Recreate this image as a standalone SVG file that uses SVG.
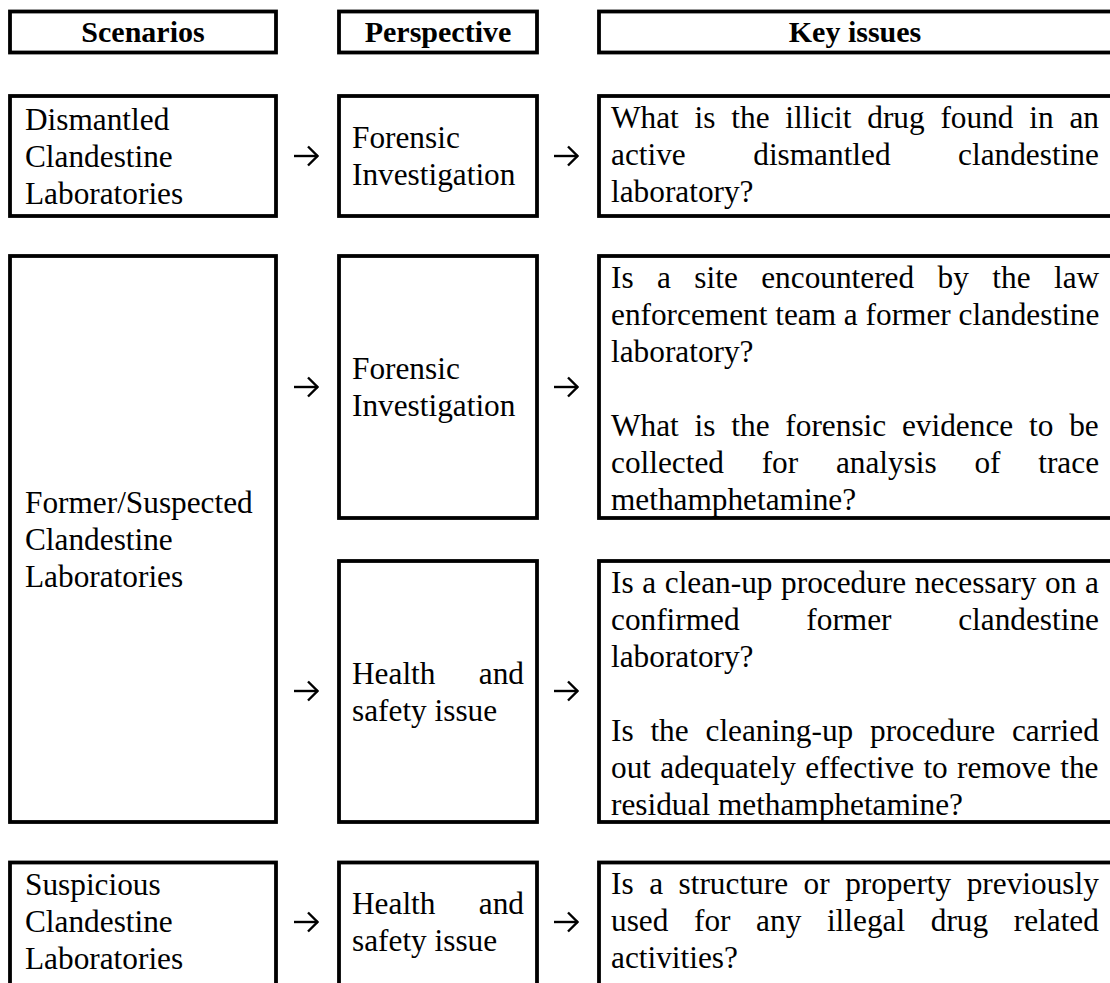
<svg xmlns="http://www.w3.org/2000/svg" width="1110" height="983" viewBox="0 0 1110 983">
<style>
.box{fill:#fff;stroke:#000;stroke-width:3.8}
.t{font-family:"Liberation Serif","Times New Roman",serif;font-size:31.3px;fill:#000}
.h{font-family:"Liberation Serif","Times New Roman",serif;font-size:30px;font-weight:bold;fill:#000;text-anchor:middle}
.arr{fill:none;stroke:#000;stroke-width:2.4}
</style>
<defs>
<marker id="ah" markerUnits="userSpaceOnUse" viewBox="0 0 12 22" markerWidth="12" markerHeight="22" refX="11" refY="11" orient="auto">
<path d="M1,1.5 L10.5,11 L1,20.5" fill="none" stroke="#000" stroke-width="2.4"/>
</marker>
</defs>
<rect width="1110" height="983" fill="#fff"/>

<g id="hdr-scenarios"><rect class="box" x="10" y="11.5" width="266" height="41"/><text class="h" x="143" y="42">Scenarios</text></g>
<g id="hdr-perspective"><rect class="box" x="339" y="11.5" width="198" height="41"/><text class="h" x="438" y="42">Perspective</text></g>
<g id="hdr-keyissues"><rect class="box" x="599" y="11.5" width="520" height="41"/><text class="h" x="855" y="42">Key issues</text></g>

<g id="s-dismantled"><rect class="box" x="10" y="96" width="266" height="120"/>
<text class="t" x="25" y="130">Dismantled</text><text class="t" x="25" y="167">Clandestine</text><text class="t" x="25" y="204">Laboratories</text></g>
<g id="p-forensic1"><rect class="box" x="339" y="96" width="198" height="120"/>
<text class="t" x="352" y="148">Forensic</text><text class="t" x="352" y="185">Investigation</text></g>
<g id="k-row1"><rect class="box" x="599" y="96" width="520" height="120"/>
<text class="t" x="611" y="128" word-spacing="8">What is the illicit drug found in an</text>
<text class="t" x="611" y="165" word-spacing="59.7">active dismantled clandestine</text>
<text class="t" x="611" y="202">laboratory?</text></g>

<g id="s-former"><rect class="box" x="10" y="256" width="266" height="566"/>
<text class="t" x="25" y="513">Former/Suspected</text><text class="t" x="25" y="550">Clandestine</text><text class="t" x="25" y="587">Laboratories</text></g>
<g id="p-forensic2"><rect class="box" x="339" y="256" width="198" height="262"/>
<text class="t" x="352" y="379">Forensic</text><text class="t" x="352" y="416">Investigation</text></g>
<g id="k-row2a"><rect class="box" x="599" y="256" width="520" height="262"/>
<text class="t" x="611" y="288" word-spacing="15.6">Is a site encountered by the law</text>
<text class="t" x="611" y="325">enforcement team a former clandestine</text>
<text class="t" x="611" y="362">laboratory?</text>
<text class="t" x="611" y="436" word-spacing="8">What is the forensic evidence to be</text>
<text class="t" x="611" y="473" word-spacing="29.9">collected for analysis of trace</text>
<text class="t" x="611" y="510">methamphetamine?</text></g>
<g id="p-health1"><rect class="box" x="339" y="561" width="198" height="261"/>
<text class="t" x="352" y="684">Health</text><text class="t" x="524" y="684" text-anchor="end">and</text><text class="t" x="352" y="721">safety issue</text></g>
<g id="k-row2b"><rect class="box" x="599" y="561" width="520" height="261"/>
<text class="t" x="611" y="593" word-spacing="0.8">Is a clean-up procedure necessary on a</text>
<text class="t" x="611" y="630" word-spacing="58.9">confirmed former clandestine</text>
<text class="t" x="611" y="667">laboratory?</text>
<text class="t" x="611" y="741" word-spacing="9">Is the cleaning-up procedure carried</text>
<text class="t" x="611" y="778" word-spacing="1.5">out adequately effective to remove the</text>
<text class="t" x="611" y="815">residual methamphetamine?</text></g>

<g id="s-suspicious"><rect class="box" x="10" y="862.5" width="266" height="130"/>
<text class="t" x="25" y="895">Suspicious</text><text class="t" x="25" y="932">Clandestine</text><text class="t" x="25" y="969">Laboratories</text></g>
<g id="p-health2"><rect class="box" x="339" y="862.5" width="198" height="130"/>
<text class="t" x="352" y="914">Health</text><text class="t" x="524" y="914" text-anchor="end">and</text><text class="t" x="352" y="951">safety issue</text></g>
<g id="k-row3"><rect class="box" x="599" y="862.5" width="520" height="130"/>
<text class="t" x="611" y="894" word-spacing="7.7">Is a structure or property previously</text>
<text class="t" x="611" y="931" word-spacing="17.8">used for any illegal drug related</text>
<text class="t" x="611" y="968">activities?</text></g>

<g id="connectors">
<path class="arr" d="M294,156 H318" marker-end="url(#ah)"/>
<path class="arr" d="M554,156 H578" marker-end="url(#ah)"/>
<path class="arr" d="M294,387 H318" marker-end="url(#ah)"/>
<path class="arr" d="M554,387 H578" marker-end="url(#ah)"/>
<path class="arr" d="M294,691 H318" marker-end="url(#ah)"/>
<path class="arr" d="M554,691 H578" marker-end="url(#ah)"/>
<path class="arr" d="M294,922 H318" marker-end="url(#ah)"/>
<path class="arr" d="M554,922 H578" marker-end="url(#ah)"/>
</g>
</svg>
